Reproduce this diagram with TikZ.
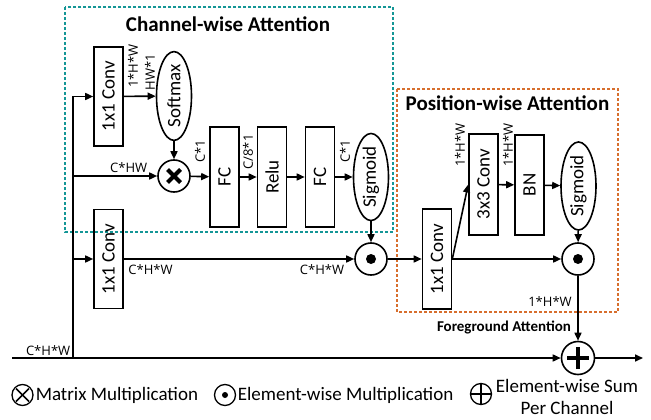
\documentclass[tikz,border=0pt]{standalone}
\usepackage{fontspec}
\setmainfont{Carlito}
\newfontfamily\dimfont{Open Sans}
\usepackage{tikz}
\usetikzlibrary{arrows.meta,positioning,shapes.geometric,calc}
\definecolor{chanteal}{RGB}{20,150,150}
\definecolor{posorange}{RGB}{215,110,45}

\begin{document}
\begin{tikzpicture}[x=1pt,y=-1pt,line width=1.6pt,
  >={Triangle[length=8pt,width=7pt]},
  box/.style={draw,minimum width=29pt,minimum height=100pt,inner sep=0pt,font=\fontsize{19}{22}\selectfont},
  oval/.style={draw,ellipse,minimum width=35pt,minimum height=86pt,inner sep=0pt,font=\fontsize{19}{22}\selectfont},
  op/.style={draw,circle,minimum size=32pt,inner sep=0pt},
  smallop/.style={draw,circle,minimum size=21pt,inner sep=0pt,line width=1.3pt},
  dim/.style={font=\dimfont\fontsize{13}{15}\selectfont,inner sep=1pt},
  legend/.style={font=\fontsize{19}{22}\selectfont,inner sep=1pt},
  title/.style={font=\bfseries\fontsize{21}{24}\selectfont,inner sep=0pt},
  matmul/.style={path picture={
    \draw[line width=#1] ([shift={(-6.5pt,-6.5pt)}]path picture bounding box.center) -- ([shift={(6.5pt,6.5pt)}]path picture bounding box.center);
    \draw[line width=#1] ([shift={(-6.5pt,6.5pt)}]path picture bounding box.center) -- ([shift={(6.5pt,-6.5pt)}]path picture bounding box.center);}},
  elemul/.style={path picture={\fill (path picture bounding box.center) circle (#1);}},
  elesum/.style={path picture={
    \draw[line width=#1] ([xshift=-11pt]path picture bounding box.center) -- ([xshift=11pt]path picture bounding box.center);
    \draw[line width=#1] ([yshift=-11pt]path picture bounding box.center) -- ([yshift=11pt]path picture bounding box.center);}}]
  \useasboundingbox (0,0) rectangle (651,420);

  % Attention regions
  \draw[chanteal, line width=1.4pt, dash pattern=on 3pt off 2pt] (65,7) rectangle (393,232);
  \node[title] (chantitle) at (228,24) {Channel-wise Attention};
  \draw[posorange, line width=1.4pt, dash pattern=on 3pt off 2pt] (397,89) rectangle (618,312);
  \node[title] (postitle) at (507.5,103) {Position-wise Attention};

  % Channel-wise branch
  \node[box, minimum height=99pt] (convA) at (108.5,96.5) {\rotatebox{90}{1x1 Conv}};
  \node[oval] (softmax) at (174,96) {\rotatebox{90}{Softmax}};
  \node[op, matmul=4pt] (mm) at (174,176) {};
  \node[box] (fcA) at (224.5,177) {\rotatebox{90}{FC}};
  \node[box] (relu) at (272,177) {\rotatebox{90}{Relu}};
  \node[box] (fcB) at (320,177) {\rotatebox{90}{FC}};
  \node[oval] (sigA) at (371,177) {\rotatebox{90}{Sigmoid}};
  \node[op, elemul=5pt] (emA) at (371,259) {};
  \node[box, minimum height=99pt] (convB) at (108.5,259) {\rotatebox{90}{1x1 Conv}};

  % Position-wise branch
  \node[box] (convC) at (437,259) {\rotatebox{90}{1x1 Conv}};
  \node[box, minimum height=101pt] (convD) at (483.5,184.5) {\rotatebox{90}{3x3 Conv}};
  \node[box] (bn) at (529.5,185) {\rotatebox{90}{BN}};
  \node[oval, minimum height=88pt] (sigB) at (578.5,186) {\rotatebox{90}{Sigmoid}};
  \node[op, elemul=5pt] (emB) at (578,259) {};
  \node[op, minimum size=33pt, elesum=4pt] (sum) at (578,358) {};

  % Trunk
  \coordinate (start) at (12,358);
  \coordinate (trunk) at (73,358);
  \coordinate (out) at (643,358);
  \draw[->] (start) -- (sum);
  \draw[->] (sum) -- (out);
  \draw[->] (trunk) |- (convA);
  \draw[->] (trunk) |- (mm);
  \draw[->] (trunk) |- (convB);
  \node[dim, anchor=south east] (dimIn) at (72,357) {C*H*W};

  % Channel-wise connectors
  \draw[->] (convA) -- (softmax);
  \node[dim, rotate=90] (dimA) at (133,66) {1*H*W};
  \node[dim, rotate=90] (dimB) at (150,72) {HW*1};
  \draw[->] (softmax) -- (mm);
  \node[dim, anchor=east] (dimC) at (149,168) {C*HW};
  \draw[->] (mm) -- (fcA);
  \node[dim, rotate=90] (dimD) at (200,151) {C*1};
  \draw[->] (fcA) -- (relu);
  \node[dim, rotate=90] (dimE) at (248,152) {C/8*1};
  \draw[->] (relu) -- (fcB);
  \draw[->] (fcB) -- (sigA);
  \node[dim, rotate=90] (dimF) at (345,151) {C*1};
  \draw[->] (sigA) -- (emA);
  \draw[->] (convB) -- (emA);
  \node[dim] (dimG) at (150.5,270) {C*H*W};
  \node[dim] (dimH) at (322,270) {C*H*W};

  % Position-wise connectors
  \draw[->] (emA) -- (convC);
  \draw[->] (convC.east) -- (convD.west);
  \node[dim, rotate=90] (dimI) at (460,145) {1*H*W};
  \draw[->] (convD) -- (bn);
  \node[dim, rotate=90] (dimJ) at (508,145) {1*H*W};
  \draw[->] (bn) -- (sigB);
  \draw[->] (sigB) -- (emB);
  \draw[->] (convC) -- (emB);
  \draw[->] (emB) -- (sum);
  \node[dim] (dimK) at (550,302) {1*H*W};
  \node[font=\bfseries\fontsize{15}{18}\selectfont, inner sep=0pt] (fgatt) at (504,327) {Foreground Attention};

  % Legend
  \node[smallop, matmul=1.6pt] (keyMM) at (22.5,395) {};
  \node[legend, anchor=west] (keyMMtext) at (34,395) {Matrix Multiplication};
  \node[smallop, elemul=3pt] (keyEM) at (225,395) {};
  \node[legend, anchor=west] (keyEMtext) at (236,395) {Element-wise Multiplication};
  \node[smallop, elesum=1.6pt] (keySum) at (481,394) {};
  \node[legend, align=center, inner sep=0pt] (keySumtext) at (567,397) {Element-wise Sum\\Per Channel};
\end{tikzpicture}
\end{document}
